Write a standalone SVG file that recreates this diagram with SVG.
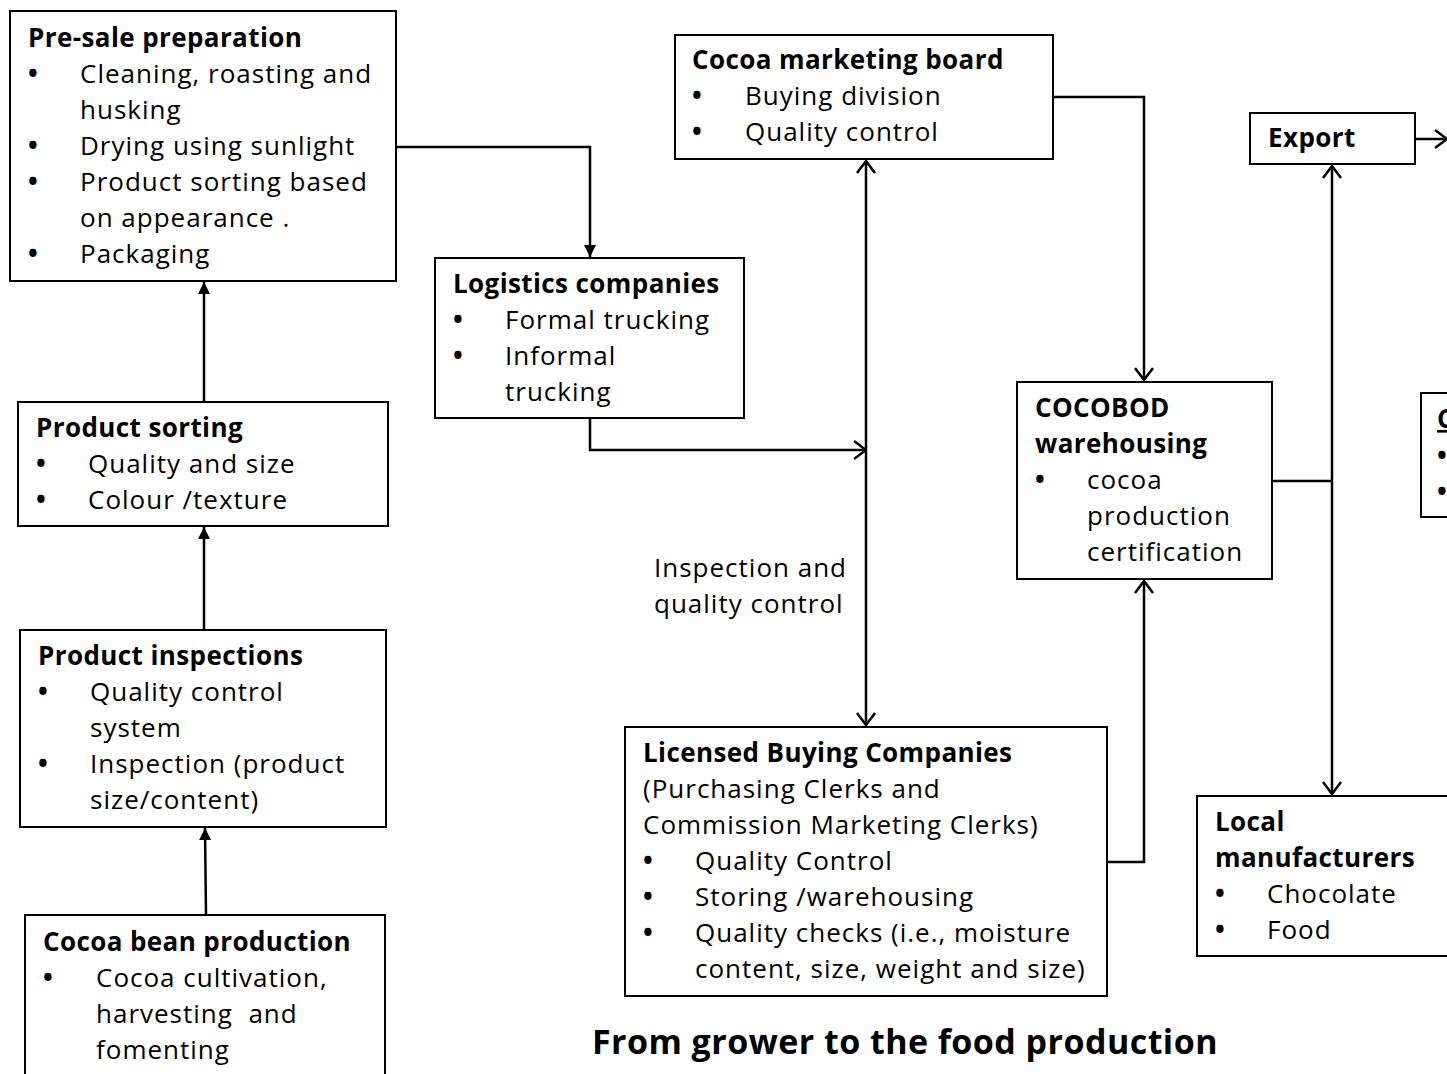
<svg xmlns="http://www.w3.org/2000/svg" width="1447" height="1074" viewBox="0 0 1447 1074">
<defs>
<style>
.box{fill:#fff;stroke:#000;stroke-width:2}
.t{font-family:"Open Sans","Noto Sans",sans-serif;font-size:26px;fill:#000;letter-spacing:1px}
.b{font-weight:bold;letter-spacing:0.4px}
.u{font-weight:bold}
.ln{fill:none;stroke:#000;stroke-width:2.5}
.cap{font-family:"Open Sans","Noto Sans",sans-serif;font-size:34px;font-weight:bold;fill:#000;letter-spacing:0.45px}
</style>
<marker id="fa" viewBox="0 0 10 10" refX="10" refY="5" markerWidth="12" markerHeight="12" markerUnits="userSpaceOnUse" orient="auto">
<path d="M0,0 L10,5 L0,10 z" fill="#000"/>
</marker>
<marker id="oa" viewBox="0 0 14 20" refX="13" refY="10" markerWidth="14" markerHeight="20" markerUnits="userSpaceOnUse" orient="auto-start-reverse">
<path d="M1,1 L13,10 L1,19" fill="none" stroke="#000" stroke-width="2.5"/>
</marker>
</defs>
<rect width="1447" height="1074" fill="#fff"/>

<g id="connectors">
<line class="ln" x1="206" y1="915" x2="205" y2="828" marker-end="url(#fa)"/>
<line class="ln" x1="204" y1="630" x2="204" y2="527" marker-end="url(#fa)"/>
<line class="ln" x1="204" y1="402" x2="204" y2="282" marker-end="url(#fa)"/>
<polyline class="ln" points="396,147 590,147 590,257" marker-end="url(#fa)"/>
<polyline class="ln" points="590,418 590,450 866,450" marker-end="url(#oa)"/>
<line class="ln" x1="866" y1="161" x2="866" y2="725" marker-start="url(#oa)" marker-end="url(#oa)"/>
<polyline class="ln" points="1053,97 1144,97 1144,380" marker-end="url(#oa)"/>
<polyline class="ln" points="1107,862 1144,862 1144,581" marker-end="url(#oa)"/>
<line class="ln" x1="1272" y1="481" x2="1332" y2="481"/>
<line class="ln" x1="1332" y1="166" x2="1332" y2="794" marker-start="url(#oa)" marker-end="url(#oa)"/>
<line class="ln" x1="1415" y1="139" x2="1447" y2="139" marker-end="url(#oa)"/>
</g>

<g id="presale">
<rect class="box" x="10" y="11" width="386" height="270"/>
<text class="t b" x="28" y="47">Pre-sale preparation</text>
<text class="t u" x="28" y="83">•</text><text class="t" x="80" y="83">Cleaning, roasting and</text>
<text class="t" x="80" y="119">husking</text>
<text class="t u" x="28" y="155">•</text><text class="t" x="80" y="155">Drying using sunlight</text>
<text class="t u" x="28" y="191">•</text><text class="t" x="80" y="191">Product sorting based</text>
<text class="t" x="80" y="227">on appearance .</text>
<text class="t u" x="28" y="263">•</text><text class="t" x="80" y="263">Packaging</text>
</g>

<g id="sorting">
<rect class="box" x="18" y="402" width="370" height="124"/>
<text class="t b" x="36" y="437">Product sorting</text>
<text class="t u" x="36" y="473">•</text><text class="t" x="88" y="473">Quality and size</text>
<text class="t u" x="36" y="509">•</text><text class="t" x="88" y="509">Colour /texture</text>
</g>

<g id="inspections">
<rect class="box" x="20" y="630" width="366" height="197"/>
<text class="t b" x="38" y="665">Product inspections</text>
<text class="t u" x="38" y="701">•</text><text class="t" x="90" y="701">Quality control</text>
<text class="t" x="90" y="737">system</text>
<text class="t u" x="38" y="773">•</text><text class="t" x="90" y="773">Inspection (product</text>
<text class="t" x="90" y="809">size/content)</text>
</g>

<g id="production">
<rect class="box" x="25" y="915" width="360" height="170"/>
<text class="t b" x="43" y="951">Cocoa bean production</text>
<text class="t u" x="43" y="987">•</text><text class="t" x="96" y="987">Cocoa cultivation,</text>
<text class="t" x="96" y="1023" xml:space="preserve">harvesting  and</text>
<text class="t" x="96" y="1059">fomenting</text>
</g>

<g id="logistics">
<rect class="box" x="435" y="258" width="309" height="160"/>
<text class="t b" x="453" y="293">Logistics companies</text>
<text class="t u" x="453" y="329">•</text><text class="t" x="505" y="329">Formal trucking</text>
<text class="t u" x="453" y="365">•</text><text class="t" x="505" y="365">Informal</text>
<text class="t" x="505" y="401">trucking</text>
</g>

<g id="marketing">
<rect class="box" x="675" y="35" width="378" height="124"/>
<text class="t b" x="692" y="69">Cocoa marketing board</text>
<text class="t u" x="692" y="105">•</text><text class="t" x="745" y="105">Buying division</text>
<text class="t u" x="692" y="141">•</text><text class="t" x="745" y="141">Quality control</text>
</g>

<g id="inspection-label">
<text class="t" x="654" y="577">Inspection and</text>
<text class="t" x="654" y="613">quality control</text>
</g>

<g id="lbc">
<rect class="box" x="625" y="727" width="482" height="269"/>
<text class="t b" x="643" y="762">Licensed Buying Companies</text>
<text class="t" x="643" y="798">(Purchasing Clerks and</text>
<text class="t" x="643" y="834">Commission Marketing Clerks)</text>
<text class="t u" x="643" y="870">•</text><text class="t" x="695" y="870">Quality Control</text>
<text class="t u" x="643" y="906">•</text><text class="t" x="695" y="906">Storing /warehousing</text>
<text class="t u" x="643" y="942">•</text><text class="t" x="695" y="942">Quality checks (i.e., moisture</text>
<text class="t" x="695" y="978">content, size, weight and size)</text>
</g>

<g id="cocobod">
<rect class="box" x="1017" y="382" width="255" height="197"/>
<text class="t b" x="1035" y="417">COCOBOD</text>
<text class="t b" x="1035" y="453">warehousing</text>
<text class="t u" x="1035" y="489">•</text><text class="t" x="1087" y="489">cocoa</text>
<text class="t" x="1087" y="525">production</text>
<text class="t" x="1087" y="561">certification</text>
</g>

<g id="export">
<rect class="box" x="1250" y="113" width="165" height="51"/>
<text class="t b" x="1268" y="147">Export</text>
</g>

<g id="partial">
<rect class="box" x="1421" y="393" width="40" height="124"/>
<text class="t b" x="1437" y="428" text-decoration="underline">C</text>
<text class="t u" x="1437" y="465">•</text>
<text class="t u" x="1437" y="501">•</text>
</g>

<g id="local">
<rect class="box" x="1197" y="796" width="270" height="160"/>
<text class="t b" x="1215" y="831">Local</text>
<text class="t b" x="1215" y="867">manufacturers</text>
<text class="t u" x="1215" y="903">•</text><text class="t" x="1267" y="903">Chocolate</text>
<text class="t u" x="1215" y="939">•</text><text class="t" x="1267" y="939">Food</text>
</g>

<text class="cap" x="592" y="1054">From grower to the food production</text>
</svg>
